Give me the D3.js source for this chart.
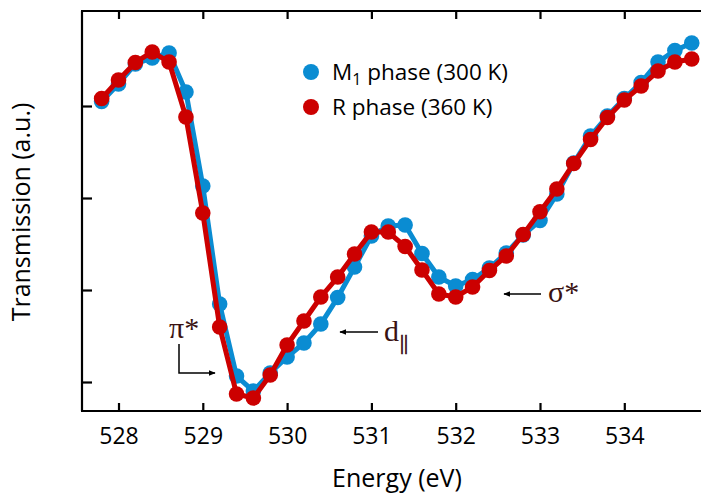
<!DOCTYPE html>
<html>
<head>
<meta charset="utf-8">
<script src="https://cdn.jsdelivr.net/npm/d3@7"></script>
<style>
  body { margin: 0; background: #fff; }
  svg { display: block; }
</style>
</head>
<body>
<svg id="chart" width="701" height="493"></svg>
<script>
// photon energy, 0.2 eV steps
const energy = [527.8, 528.0, 528.2, 528.4, 528.6, 528.8, 529.0, 529.2, 529.4, 529.6,
  529.8, 530.0, 530.2, 530.4, 530.6, 530.8, 531.0, 531.2, 531.4, 531.6,
  531.8, 532.0, 532.2, 532.4, 532.6, 532.8, 533.0, 533.2, 533.4, 533.6,
  533.8, 534.0, 534.2, 534.4, 534.6, 534.8]

// transmission (arbitrary units)
const m1Phase = [3.049, 3.239, 3.457, 3.522, 3.576, 3.152, 2.130, 0.848, 0.065, -0.098,
  0.098, 0.272, 0.424, 0.630, 0.918, 1.250, 1.587, 1.696, 1.707, 1.397,
  1.141, 1.043, 1.114, 1.239, 1.402, 1.598, 1.755, 2.043, 2.380, 2.674,
  2.891, 3.082, 3.255, 3.478, 3.603, 3.685]
const rPhase = [3.082, 3.283, 3.473, 3.587, 3.478, 2.880, 1.837, 0.598, -0.130, -0.174,
  0.076, 0.402, 0.663, 0.924, 1.141, 1.391, 1.630, 1.630, 1.473, 1.217,
  0.957, 0.924, 1.033, 1.212, 1.370, 1.603, 1.851, 2.098, 2.375, 2.636,
  2.875, 3.065, 3.217, 3.380, 3.478, 3.511]

const xTicks = [528, 529, 530, 531, 532, 533, 534]
const yTicks = [0, 1, 2, 3]

const seriesNames = ['M1 phase (300 K)', 'R phase (360 K)']
const seriesColors = ['#0a8cd2', '#cc0000']

const svg = d3.select('#chart')
const plotLeft = 82, plotTop = 11, plotBottom = 411, plotRight = 701

// x: 528 sits at 118.5 px, 84.3 px per eV
var x = d3.scaleLinear().domain([528, 534]).range([118.5, 118.5 + 6 * 84.3])
var y = d3.scaleLinear().domain([0, 3]).range([382, 106])

var plot = svg.append('g')

var line = d3.line()
  .x(function (d) { return x(d[0]) })
  .y(function (d) { return y(d[1]) })

var series = [m1Phase, rPhase].map(function (vals) {
  return energy.map(function (e, i) { return [e, vals[i]] })
})

series.forEach(function (pts, i) {
  var g = plot.append('g')
  g.append('path')
    .datum(pts)
    .attr('fill', 'none')
    .attr('stroke', seriesColors[i])
    .attr('stroke-width', 5)
    .attr('stroke-linejoin', 'round')
    .attr('d', line)
  g.selectAll('circle')
    .data(pts)
    .enter().append('circle')
    .attr('cx', function (d) { return x(d[0]) })
    .attr('cy', function (d) { return y(d[1]) })
    .attr('r', 7.8)
    .attr('fill', seriesColors[i])
})

// frame: left, bottom and top lines (right edge falls outside the picture)
var frame = svg.append('g').attr('stroke', '#000').attr('stroke-width', 2.2)
frame.append('line').attr('x1', plotLeft).attr('x2', plotLeft).attr('y1', plotTop).attr('y2', plotBottom)
frame.append('line').attr('x1', plotLeft - 1).attr('x2', plotRight).attr('y1', plotBottom).attr('y2', plotBottom)
frame.append('line').attr('x1', plotLeft - 1).attr('x2', plotRight).attr('y1', plotTop).attr('y2', plotTop)

// ticks point inward
var bottomAxis = svg.append('g').attr('transform', 'translate(0,' + plotBottom + ')')
  .call(d3.axisBottom(x).tickValues(xTicks).tickSize(-8).tickPadding(17).tickFormat(d3.format('d')))
var topAxis = svg.append('g').attr('transform', 'translate(0,' + plotTop + ')')
  .call(d3.axisTop(x).tickValues(xTicks).tickSize(-8).tickFormat(''))
var leftAxis = svg.append('g').attr('transform', 'translate(' + plotLeft + ',0)')
  .call(d3.axisLeft(y).tickValues(yTicks).tickSize(-10).tickFormat(''))

;[bottomAxis, topAxis, leftAxis].forEach(function (a) {
  a.select('.domain').remove()
  a.selectAll('.tick line').attr('stroke', '#000').attr('stroke-width', 2.2)
})
bottomAxis.selectAll('.tick text')
  .attr('font-family', 'Open Sans, sans-serif')
  .attr('font-size', 23)
  .attr('fill', '#000')

// axis titles
svg.append('text')
  .attr('x', 397)
  .attr('y', 487)
  .attr('text-anchor', 'middle')
  .attr('font-family', 'Open Sans, sans-serif')
  .attr('font-size', 25)
  .text('Energy (eV)')

svg.append('text')
  .attr('transform', 'translate(30,212) rotate(-90)')
  .attr('text-anchor', 'middle')
  .attr('font-family', 'Open Sans, sans-serif')
  .attr('font-size', 25)
  .text('Transmission (a.u.)')

// legend
var legend = svg.append('g').attr('font-family', 'Open Sans, sans-serif').attr('font-size', 22.5)
seriesNames.forEach(function (name, i) {
  var ly = 72 + i * 35
  legend.append('circle').attr('cx', 311).attr('cy', ly).attr('r', 8).attr('fill', seriesColors[i])
  var t = legend.append('text').attr('x', 332).attr('y', ly + 8)
  if (i === 0) {
    t.append('tspan').text('M')
    t.append('tspan').attr('font-size', 16).attr('dy', 5).text('1')
    t.append('tspan').attr('dy', -5).text(' phase (300 K)')
  } else {
    t.text(name)
  }
})

// peak annotations
var annColor = '#3a1212'
var ann = svg.append('g').attr('fill', annColor).attr('font-family', 'Liberation Serif, serif').attr('font-size', 30)
svg.append('defs').append('marker')
  .attr('id', 'head')
  .attr('viewBox', '0 0 10 10')
  .attr('refX', 9).attr('refY', 5)
  .attr('markerWidth', 4.5).attr('markerHeight', 4.5)
  .attr('orient', 'auto')
  .append('path').attr('d', 'M0,1 L10,5 L0,9 Z').attr('fill', '#000')

ann.append('text').attr('x', 169).attr('y', 338).text('π*')
ann.append('path')
  .attr('d', 'M179,344 L179,373 L215,373')
  .attr('fill', 'none').attr('stroke', '#000').attr('stroke-width', 1.5)
  .attr('marker-end', 'url(#head)')

ann.append('line')
  .attr('x1', 378).attr('y1', 332).attr('x2', 340).attr('y2', 332)
  .attr('stroke', '#000').attr('stroke-width', 1.5)
  .attr('marker-end', 'url(#head)')
var dt = ann.append('text').attr('x', 384).attr('y', 341)
dt.append('tspan').text('d')
dt.append('tspan').attr('font-size', 20).attr('dy', 8).attr('dx', 1)
  .attr('stroke', annColor).attr('stroke-width', 0.7)
  .text('||')

ann.append('line')
  .attr('x1', 541).attr('y1', 294).attr('x2', 504).attr('y2', 294)
  .attr('stroke', '#000').attr('stroke-width', 1.5)
  .attr('marker-end', 'url(#head)')
ann.append('text').attr('x', 548).attr('y', 302).text('σ*')
</script>
</body>
</html>
